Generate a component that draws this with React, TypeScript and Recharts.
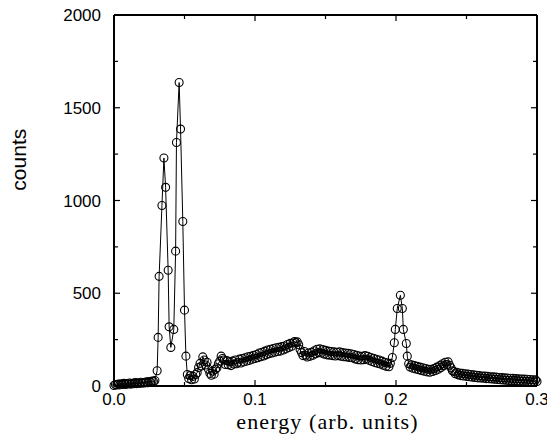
import { LineChart, Line, XAxis, YAxis } from "recharts";

const energy = [
  // rising edge of the baseline
  0.0, 0.001, 0.002, 0.003, 0.004, 0.005, 0.006, 0.007, 0.008, 0.009, 0.01, 0.011, 0.012, 0.013,
  0.014, 0.015, 0.016, 0.017, 0.018, 0.019, 0.02, 0.021, 0.022, 0.023, 0.024, 0.025, 0.026, 0.027,
  0.028, 0.029,
  // double peak
  0.0306, 0.0313, 0.032, 0.034, 0.0354, 0.0366, 0.0384, 0.0391, 0.0403, 0.0424, 0.0437, 0.0443,
  0.0462, 0.0472, 0.0488, 0.05, 0.051,
  0.052, 0.053, 0.054, 0.055, 0.056, 0.057, 0.058, 0.059, 0.06, 0.061, 0.062, 0.063, 0.064, 0.065,
  0.066, 0.067, 0.068, 0.069, 0.07, 0.071, 0.072, 0.073, 0.074, 0.075, 0.076, 0.077, 0.078, 0.079,
  0.08, 0.081, 0.082, 0.083, 0.084, 0.085, 0.086, 0.087, 0.088, 0.089, 0.09, 0.091, 0.092, 0.093,
  0.094, 0.095, 0.096, 0.097, 0.098, 0.099, 0.1, 0.101, 0.102, 0.103, 0.104, 0.105, 0.106, 0.107,
  0.108, 0.109, 0.11, 0.111, 0.112, 0.113, 0.114, 0.115, 0.116, 0.117, 0.118, 0.119, 0.12, 0.121,
  0.122, 0.123, 0.124, 0.125, 0.126, 0.127, 0.128, 0.129, 0.13, 0.131, 0.132, 0.133,
  0.134, 0.135, 0.136, 0.137, 0.138, 0.139, 0.14, 0.141, 0.142, 0.143, 0.144, 0.145, 0.146, 0.147,
  0.148, 0.149, 0.15, 0.151, 0.152, 0.153, 0.154, 0.155, 0.156, 0.157, 0.158, 0.159, 0.16, 0.161,
  0.162, 0.163, 0.164, 0.165, 0.166, 0.167, 0.168, 0.169, 0.17, 0.171, 0.172, 0.173, 0.174, 0.175,
  0.176, 0.177, 0.178, 0.179, 0.18, 0.181, 0.182, 0.183, 0.184, 0.185, 0.186, 0.187, 0.188, 0.189,
  0.19, 0.191, 0.192, 0.193, 0.194, 0.195, 0.196,
  // peak near 0.2
  0.1974, 0.1988, 0.1995, 0.2009, 0.2031, 0.2045, 0.2052, 0.2073, 0.208,
  0.209, 0.21, 0.211, 0.212, 0.213, 0.214, 0.215, 0.216, 0.217, 0.218, 0.219, 0.22, 0.221, 0.222,
  0.223, 0.224, 0.225, 0.226, 0.227, 0.228, 0.229, 0.23, 0.231, 0.232, 0.233, 0.234, 0.235, 0.236,
  0.237, 0.238, 0.239, 0.24, 0.241, 0.242, 0.243, 0.244, 0.245, 0.246, 0.247, 0.248, 0.249, 0.25,
  0.251, 0.252, 0.253, 0.254, 0.255, 0.256, 0.257, 0.258, 0.259, 0.26, 0.261, 0.262, 0.263, 0.264,
  0.265, 0.266, 0.267, 0.268, 0.269, 0.27, 0.271, 0.272, 0.273, 0.274, 0.275, 0.276, 0.277, 0.278,
  0.279, 0.28, 0.281, 0.282, 0.283, 0.284, 0.285, 0.286, 0.287, 0.288, 0.289, 0.29, 0.291, 0.292,
  0.293, 0.294, 0.295, 0.296, 0.297, 0.298, 0.299, 0.3,
];

const counts = [
  3, 8, 5, 10, 6, 12, 9, 14, 8, 13, 11, 16, 10, 15,
  12, 18, 13, 17, 14, 20, 15, 19, 17, 22, 18, 24, 21, 27,
  24, 30,
  82, 262, 591, 973, 1229, 1071, 624, 319, 208, 305, 727, 1313,
  1636, 1385, 887, 409, 161,
  62, 40, 56, 34, 52, 38, 62, 72, 100, 122, 108, 157, 140, 113,
  128, 90, 68, 58, 80, 64, 90, 98, 120, 134, 161, 148, 140, 116,
  137, 115, 131, 110, 134, 118, 140, 120, 128, 145, 124, 148, 130, 152,
  134, 158, 138, 160, 144, 166, 148, 170, 152, 178, 158, 182, 162, 188,
  168, 194, 174, 198, 178, 202, 182, 206, 186, 208, 188, 212, 194, 216,
  200, 224, 208, 230, 214, 232, 240, 234, 238, 222, 196, 180,
  164, 186, 166, 156, 178, 160, 182, 166, 190, 174, 198, 180, 200, 178,
  196, 172, 192, 168, 188, 166, 186, 164, 184, 162, 182, 164, 184, 160,
  180, 158, 178, 156, 176, 154, 174, 152, 170, 146, 166, 142, 162, 140,
  160, 142, 164, 144, 160, 138, 154, 132, 150, 126, 144, 122, 140, 118,
  134, 112, 128, 106, 124, 104, 122,
  154, 233, 305, 418, 489, 418, 305, 229, 161,
  120, 102, 114, 96, 110, 92, 106, 88, 102, 84, 98, 80, 94, 76,
  90, 74, 90, 78, 94, 84, 102, 90, 110, 100, 120, 110, 128, 116,
  130, 112, 98, 82, 78, 66, 74, 60, 70, 56, 68, 54, 66, 52,
  64, 50, 62, 48, 60, 46, 58, 44, 56, 43, 54, 42, 53, 40,
  52, 39, 50, 38, 49, 36, 48, 35, 46, 34, 45, 32, 44, 31,
  43, 30, 42, 30, 41, 29, 40, 28, 39, 27, 38, 26, 37, 25,
  36, 24, 35, 23, 34, 22, 33, 24,
];

const xTicks = [0, 0.05, 0.1, 0.15, 0.2, 0.25, 0.3];
const yTicks = [0, 250, 500, 750, 1000, 1250, 1500, 1750, 2000];

const data = energy.map((e, i) => ({ energy: e, counts: counts[i] }));

const sans = "'Liberation Sans', Arial, Helvetica, sans-serif";
const serif = "'Liberation Serif', 'Times New Roman', serif";

const isMajorX = (v: number) => Math.abs(v * 10 - Math.round(v * 10)) < 1e-6;
const isMajorY = (v: number) => v % 500 === 0;

function BottomTick({ x, y, payload }: any) {
  const major = isMajorX(payload.value);
  return (
    <g>
      <line x1={x} x2={x} y1={y} y2={y - (major ? 6 : 4)} stroke="#000" strokeWidth={1.2} />
      {major && (
        <text x={x} y={y + 19} textAnchor="middle" fontFamily={sans} fontSize={17} fill="#000">
          {payload.value.toFixed(1)}
        </text>
      )}
    </g>
  );
}

function TopTick({ x, y, payload }: any) {
  const major = isMajorX(payload.value);
  return <line x1={x} x2={x} y1={y} y2={y + (major ? 6 : 4)} stroke="#000" strokeWidth={1.2} />;
}

function LeftTick({ x, y, payload }: any) {
  const major = isMajorY(payload.value);
  return (
    <g>
      <line x1={x} x2={x + (major ? 6 : 4)} y1={y} y2={y} stroke="#000" strokeWidth={1.2} />
      {major && (
        <text x={x - 13} y={y} dy="0.36em" textAnchor="end" fontFamily={sans} fontSize={17} fill="#000">
          {payload.value}
        </text>
      )}
    </g>
  );
}

function RightTick({ x, y, payload }: any) {
  const major = isMajorY(payload.value);
  return <line x1={x} x2={x - (major ? 6 : 4)} y1={y} y2={y} stroke="#000" strokeWidth={1.2} />;
}

export default function App() {
  const frame = { stroke: "#000", strokeWidth: 2 };
  return (
    <div style={{ marginTop: -6 }}>
      <LineChart width={547} height={434} data={data} margin={{ top: 12, right: 17, bottom: 0, left: 0 }}>
        <XAxis
          xAxisId="b"
          dataKey="energy"
          type="number"
          domain={[0, 0.3]}
          ticks={xTicks}
          interval={0}
          height={50}
          tickSize={0}
          tickMargin={0}
          tickLine={false}
          axisLine={frame}
          tick={<BottomTick />}
          label={{
            content: ({ viewBox }: any) => (
              <text
                x={viewBox.x + viewBox.width / 2 + 2}
                y={viewBox.y + 43}
                textAnchor="middle"
                fontFamily={serif}
                fontSize={22}
                letterSpacing={1.1}
                fill="#000"
              >
                energy (arb. units)
              </text>
            ),
          }}
        />
        <XAxis
          xAxisId="t"
          dataKey="energy"
          orientation="top"
          type="number"
          domain={[0, 0.3]}
          ticks={xTicks}
          interval={0}
          height={1}
          tickSize={0}
          tickMargin={0}
          tickLine={false}
          axisLine={frame}
          tick={<TopTick />}
        />
        <YAxis
          yAxisId="l"
          type="number"
          domain={[0, 2000]}
          ticks={yTicks}
          interval={0}
          width={106}
          tickSize={0}
          tickMargin={0}
          tickLine={false}
          axisLine={frame}
          tick={<LeftTick />}
          label={{
            content: ({ viewBox }: any) => {
              const cx = viewBox.x + 18;
              const cy = viewBox.y + viewBox.height * 0.39;
              return (
                <text
                  x={cx}
                  y={cy}
                  transform={`rotate(-90, ${cx}, ${cy})`}
                  textAnchor="middle"
                  fontFamily={sans}
                  fontSize={21}
                  fill="#000"
                >
                  counts
                </text>
              );
            },
          }}
        />
        <YAxis
          yAxisId="r"
          orientation="right"
          type="number"
          domain={[0, 2000]}
          ticks={yTicks}
          interval={0}
          width={1}
          tickSize={0}
          tickMargin={0}
          tickLine={false}
          axisLine={frame}
          tick={<RightTick />}
        />
        {/* invisible twin so the top and right frame axes have a series */}
        <Line
          xAxisId="t"
          yAxisId="r"
          dataKey="counts"
          stroke="none"
          dot={false}
          activeDot={false}
          legendType="none"
          isAnimationActive={false}
        />
        <Line
          xAxisId="b"
          yAxisId="l"
          type="linear"
          dataKey="counts"
          stroke="#000"
          strokeWidth={1}
          dot={{ r: 4, stroke: "#000", strokeWidth: 1.1, fill: "none" }}
          activeDot={false}
          isAnimationActive={false}
        />
      </LineChart>
    </div>
  );
}
